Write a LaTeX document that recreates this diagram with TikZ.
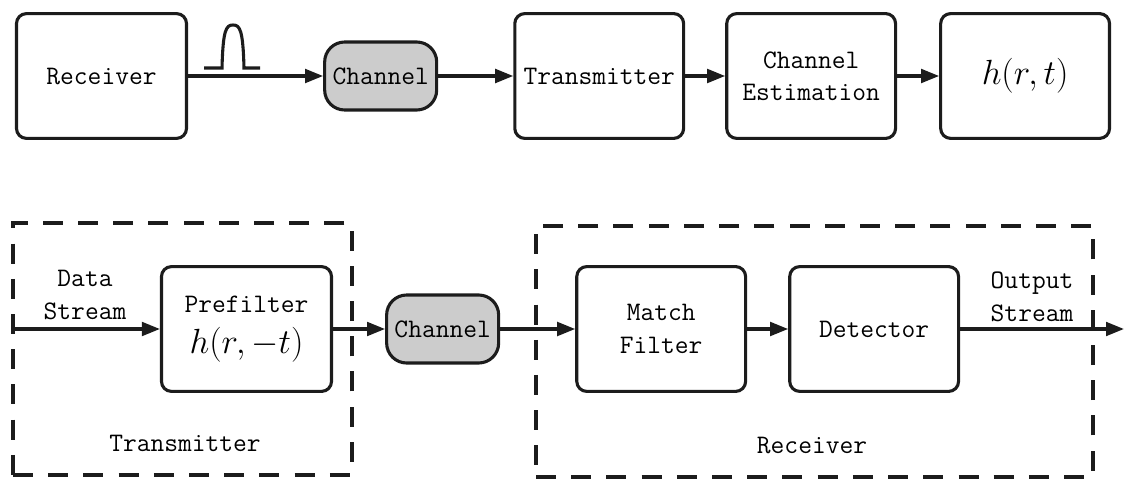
\documentclass[tikz,border=0pt]{standalone}
\usepackage{fontspec}
\usepackage{tikz}
\usetikzlibrary{arrows.meta,positioning,fit}
\definecolor{ink}{RGB}{28,28,28}
\definecolor{chgray}{RGB}{204,204,204}
\newcommand{\lbl}{\ttfamily\fontsize{19}{23}\selectfont}
\newcommand{\mth}{\fontsize{27}{30}\selectfont}
\tikzset{
  flow/.style={-{Triangle[length=0.45cm,width=0.34cm]},line width=2.2pt,draw=ink},
  box/.style={rounded corners=0.25cm,draw=ink,line width=2.2pt,fill=white,
              align=center,minimum width=4.22cm,minimum height=3.12cm,font=\lbl},
  chbox/.style={box,rounded corners=0.5cm,fill=chgray,
                minimum width=2.8cm,minimum height=1.7cm},
  groupbox/.style={draw=ink,line width=2.2pt,dash pattern=on 0.5cm off 0.38cm,inner sep=0pt},
  tag/.style={align=center,font=\lbl},
  pulse/.style={draw=ink,line width=2.2pt}
}

\begin{document}
\begin{tikzpicture}[x=0.025cm,y=-0.025cm]
  \useasboundingbox (0,0) rectangle (1124,479);
  % upper chain
  \node[box,minimum width=4.25cm] (rx) at (101.5,76) {Receiver};
  \node[chbox,right=3.375cm of rx] (ch1) {Channel};
  \node[box,right=1.875cm of ch1] (tx1) {Transmitter};
  \node[box,right=1cm of tx1] (est) {Channel\\Estimation};
  \node[box,right=1.05cm of est] (hrt) {\mth $h(r,t)$};
  \draw[flow] (rx)--(ch1); \draw[flow] (ch1)--(tx1);
  \draw[flow] (tx1)--(est); \draw[flow] (est)--(hrt);
  \draw[pulse] (204,68) -- (222,68) .. controls (223,30) and (226,25) .. (233,25)
    .. controls (240,25) and (243,30) .. (244,68) -- (260,68);
  % lower chain
  \node[groupbox,fit={(13,223) (352,475)}] (txg) {};
  \node[groupbox,fit={(536,226) (1093,477)}] (rxg) {};
  \node[box,minimum width=4.25cm] (pre) at (246.5,329) {Prefilter\\[6pt]{\mth $h(r,-t)$}};
  \node[chbox,right=1.3cm of pre] (ch2) {Channel};
  \node[box,right=1.875cm of ch2] (mf) {Match\\Filter};
  \node[box,right=1.025cm of mf] (det) {Detector};
  \node[tag] (din) at (85,295) {Data\\Stream};
  \node[tag] (dout) at (1032,297) {Output\\Stream};
  \node[tag] (txl) at (185,443) {Transmitter};
  \node[tag] (rxl) at (812,445) {Receiver};
  \coordinate (src) at (txg.west |- pre);
  \coordinate (sink) at (1124,0);
  \draw[flow] (src)--(pre); \draw[flow] (pre)--(ch2);
  \draw[flow] (ch2)--(mf); \draw[flow] (mf)--(det);
  \draw[flow] (det)--(det -| sink);
\end{tikzpicture}
\end{document}
